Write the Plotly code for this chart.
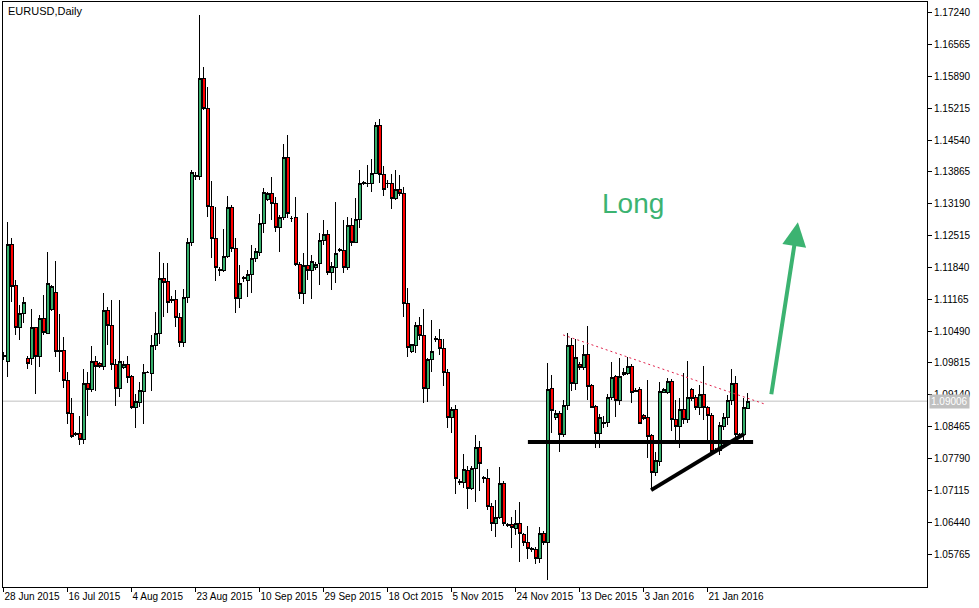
import plotly.graph_objects as go

# ---------------- data (EURUSD daily) ----------------
opens = [
1.0998, 1.0984, 1.1232, 1.1145, 1.1056, 1.1087, 1.0992, 1.0992, 1.1056, 1.0996,
1.1075, 1.1045, 1.1094, 1.1132, 1.1007, 1.1007, 1.0945, 1.0875, 1.0831, 1.0831,
1.0820, 1.0937, 1.0926, 1.0984, 1.0981, 1.0975, 1.1092, 1.1062, 1.0979, 1.0928,
1.0971, 1.0979, 1.0952, 1.0888, 1.0897, 1.0922, 1.0962, 1.0960, 1.1018, 1.1043,
1.1160, 1.1155, 1.1117, 1.1117, 1.1079, 1.1026, 1.1121, 1.1236, 1.1376, 1.1376,
1.1584, 1.1520, 1.1314, 1.1246, 1.1177, 1.1177, 1.1208, 1.1312, 1.1225, 1.1119,
1.1162, 1.1157, 1.1170, 1.1204, 1.1215, 1.1278, 1.1329, 1.1340, 1.1319, 1.1268,
1.1289, 1.1418, 1.1287, 1.1289, 1.1191, 1.1128, 1.1189, 1.1177, 1.1183, 1.1193,
1.1242, 1.1253, 1.1174, 1.1185, 1.1221, 1.1219, 1.1185, 1.1272, 1.1238, 1.1285,
1.1363, 1.1363, 1.1361, 1.1384, 1.1486, 1.1382, 1.1363, 1.1363, 1.1331, 1.1350,
1.1340, 1.1107, 1.1005, 1.1018, 1.1060, 1.1039, 1.0928, 1.0988, 1.1034, 1.1032,
1.1013, 1.0962, 1.0867, 1.0882, 1.0729, 1.0729, 1.0753, 1.0716, 1.0757, 1.0803,
1.0736, 1.0736, 1.0678, 1.0642, 1.0655, 1.0727, 1.0638, 1.0640, 1.0630, 1.0642,
1.0617, 1.0600, 1.0587, 1.0587, 1.0568, 1.0621, 1.0602, 1.0928, 1.0867, 1.0875,
1.0829, 1.0892, 1.1018, 1.0939, 1.0979, 1.0971, 1.1000, 1.0933, 1.0890, 1.0833,
1.0854, 1.0856, 1.0909, 1.0952, 1.0903, 1.0958, 1.0960, 1.0975, 1.0924, 1.0926,
1.0871, 1.0865, 1.0827, 1.0750, 1.0772, 1.0920, 1.0918, 1.0943, 1.0861, 1.0846,
1.0882, 1.0861, 1.0926, 1.0909, 1.0888, 1.0914, 1.0888, 1.0871, 1.0795, 1.0797,
1.0846, 1.0865, 1.0903, 1.0939, 1.0827, 1.0829, 1.0886,
]
highs = [
1.1005, 1.1280, 1.1246, 1.1157, 1.1104, 1.1121, 1.0996, 1.1096, 1.1058, 1.1083,
1.1126, 1.1217, 1.1147, 1.1198, 1.1085, 1.1037, 1.0962, 1.0907, 1.0835, 1.0869,
1.0969, 1.0962, 1.1018, 1.0996, 1.0984, 1.1130, 1.1100, 1.1115, 1.0990, 1.1115,
1.0986, 1.0996, 1.0956, 1.0916, 1.0941, 1.0979, 1.0964, 1.1041, 1.1090, 1.1217,
1.1193, 1.1193, 1.1123, 1.1136, 1.1087, 1.1138, 1.1246, 1.1391, 1.1386, 1.1719,
1.1609, 1.1567, 1.1367, 1.1312, 1.1185, 1.1266, 1.1336, 1.1316, 1.1246, 1.1189,
1.1166, 1.1179, 1.1232, 1.1225, 1.1297, 1.1352, 1.1344, 1.1376, 1.1333, 1.1295,
1.1446, 1.1465, 1.1293, 1.1333, 1.1196, 1.1215, 1.1299, 1.1210, 1.1196, 1.1257,
1.1285, 1.1263, 1.1196, 1.1323, 1.1225, 1.1285, 1.1291, 1.1289, 1.1331, 1.1391,
1.1367, 1.1401, 1.1414, 1.1492, 1.1499, 1.1399, 1.1369, 1.1382, 1.1391, 1.1380,
1.1355, 1.1140, 1.1022, 1.1068, 1.1079, 1.1096, 1.0992, 1.1073, 1.1039, 1.1054,
1.1032, 1.0969, 1.0888, 1.0892, 1.0736, 1.0789, 1.0763, 1.0763, 1.0829, 1.0816,
1.0742, 1.0757, 1.0685, 1.0691, 1.0761, 1.0731, 1.0642, 1.0655, 1.0670, 1.0687,
1.0621, 1.0636, 1.0591, 1.0591, 1.0634, 1.0626, 1.0981, 1.0956, 1.0882, 1.0880,
1.0903, 1.1045, 1.1035, 1.1032, 1.0984, 1.1020, 1.1060, 1.0937, 1.0892, 1.0873,
1.0869, 1.0916, 1.0984, 1.0956, 1.0992, 1.0971, 1.0994, 1.0979, 1.0928, 1.0930,
1.0873, 1.0945, 1.0831, 1.0793, 1.0941, 1.0928, 1.0950, 1.0947, 1.0903, 1.0907,
1.0960, 1.0986, 1.0928, 1.0914, 1.0935, 1.0975, 1.0890, 1.0875, 1.0801, 1.0856,
1.0875, 1.0914, 1.0969, 1.0954, 1.0833, 1.0907, 1.0918,
]
lows = [
1.0988, 1.0952, 1.1111, 1.1041, 1.1030, 1.1066, 1.0969, 1.0977, 1.0916, 1.0973,
1.1041, 1.1043, 1.1092, 1.0994, 1.0962, 1.0928, 1.0852, 1.0822, 1.0827, 1.0808,
1.0810, 1.0869, 1.0920, 1.0922, 1.0971, 1.0967, 1.1020, 1.0967, 1.0890, 1.0909,
1.0969, 1.0939, 1.0884, 1.0844, 1.0888, 1.0852, 1.0960, 1.0922, 1.1009, 1.1022,
1.1079, 1.1087, 1.1109, 1.1058, 1.1015, 1.1015, 1.1109, 1.1230, 1.1369, 1.1369,
1.1518, 1.1291, 1.1204, 1.1155, 1.1166, 1.1174, 1.1204, 1.1217, 1.1087, 1.1098,
1.1153, 1.1121, 1.1130, 1.1196, 1.1208, 1.1257, 1.1325, 1.1285, 1.1259, 1.1217,
1.1285, 1.1289, 1.1280, 1.1187, 1.1117, 1.1107, 1.1157, 1.1117, 1.1179, 1.1147,
1.1232, 1.1168, 1.1136, 1.1151, 1.1217, 1.1172, 1.1179, 1.1230, 1.1236, 1.1268,
1.1359, 1.1355, 1.1344, 1.1382, 1.1363, 1.1336, 1.1352, 1.1308, 1.1327, 1.1336,
1.1079, 1.0994, 1.1002, 1.1002, 1.1030, 1.0897, 1.0899, 1.0962, 1.1026, 1.0998,
1.0933, 1.0844, 1.0833, 1.0704, 1.0723, 1.0716, 1.0672, 1.0712, 1.0687, 1.0710,
1.0727, 1.0670, 1.0625, 1.0613, 1.0651, 1.0636, 1.0634, 1.0589, 1.0617, 1.0560,
1.0593, 1.0566, 1.0581, 1.0555, 1.0557, 1.0596, 1.0521, 1.0833, 1.0861, 1.0793,
1.0825, 1.0882, 1.0922, 1.0924, 1.0967, 1.0967, 1.0903, 1.0886, 1.0801, 1.0801,
1.0844, 1.0846, 1.0903, 1.0867, 1.0892, 1.0954, 1.0956, 1.0897, 1.0920, 1.0852,
1.0861, 1.0780, 1.0714, 1.0742, 1.0763, 1.0918, 1.0916, 1.0837, 1.0818, 1.0801,
1.0852, 1.0854, 1.0901, 1.0882, 1.0871, 1.0861, 1.0818, 1.0786, 1.0791, 1.0786,
1.0840, 1.0850, 1.0892, 1.0818, 1.0822, 1.0818, 1.0884,
]
closes = [
1.0996, 1.1232, 1.1143, 1.1056, 1.1087, 1.1109, 1.0981, 1.1056, 1.0996, 1.1075,
1.1047, 1.1151, 1.1143, 1.1005, 1.1005, 1.0945, 1.0875, 1.0825, 1.0829, 1.0820,
1.0937, 1.0926, 1.0984, 1.0975, 1.0975, 1.1092, 1.1060, 1.0979, 1.0928, 1.0984,
1.0979, 1.0950, 1.0888, 1.0899, 1.0924, 1.0962, 1.0962, 1.1018, 1.1043, 1.1160,
1.1153, 1.1109, 1.1115, 1.1079, 1.1026, 1.1121, 1.1236, 1.1386, 1.1378, 1.1584,
1.1522, 1.1314, 1.1246, 1.1185, 1.1179, 1.1208, 1.1312, 1.1225, 1.1119, 1.1151,
1.1160, 1.1170, 1.1204, 1.1217, 1.1278, 1.1342, 1.1340, 1.1319, 1.1268, 1.1291,
1.1418, 1.1299, 1.1287, 1.1191, 1.1128, 1.1189, 1.1177, 1.1196, 1.1191, 1.1242,
1.1253, 1.1174, 1.1187, 1.1213, 1.1222, 1.1185, 1.1272, 1.1238, 1.1285, 1.1361,
1.1364, 1.1362, 1.1384, 1.1486, 1.1382, 1.1350, 1.1361, 1.1331, 1.1350, 1.1340,
1.1107, 1.1015, 1.1020, 1.1060, 1.1039, 1.0928, 1.0988, 1.1005, 1.1032, 1.1013,
1.0962, 1.0867, 1.0882, 1.0736, 1.0731, 1.0755, 1.0716, 1.0757, 1.0803, 1.0769,
1.0738, 1.0678, 1.0642, 1.0655, 1.0727, 1.0642, 1.0640, 1.0632, 1.0642, 1.0619,
1.0600, 1.0589, 1.0589, 1.0568, 1.0621, 1.0602, 1.0926, 1.0880, 1.0875, 1.0829,
1.0892, 1.1018, 1.0939, 1.0994, 1.0971, 1.1000, 1.0931, 1.0888, 1.0833, 1.0865,
1.0856, 1.0909, 1.0950, 1.0903, 1.0952, 1.0962, 1.0975, 1.0920, 1.0922, 1.0854,
1.0863, 1.0825, 1.0750, 1.0774, 1.0922, 1.0926, 1.0943, 1.0861, 1.0846, 1.0882,
1.0861, 1.0909, 1.0907, 1.0888, 1.0914, 1.0888, 1.0871, 1.0793, 1.0797, 1.0848,
1.0865, 1.0903, 1.0937, 1.0829, 1.0829, 1.0888, 1.09006,
]

date_tick_bars = [0, 16, 32, 48, 64, 80, 96, 112, 128, 144, 160, 176]
date_tick_labels = ["28 Jun 2015", "16 Jul 2015", "4 Aug 2015", "23 Aug 2015",
                    "10 Sep 2015", "29 Sep 2015", "18 Oct 2015", "5 Nov 2015",
                    "24 Nov 2015", "13 Dec 2015", "3 Jan 2016", "21 Jan 2016"]
price_ticks = [1.05765, 1.06440, 1.07115, 1.07790, 1.08465, 1.09140, 1.09815,
               1.10490, 1.11165, 1.11840, 1.12515, 1.13190, 1.13865, 1.14540,
               1.15215, 1.15890, 1.16565, 1.17240]
price_tick_labels = ["%.5f" % v for v in price_ticks]
last_price = 1.09006

bars = list(range(len(closes)))

# ---------------- figure ----------------
FONT = "Liberation Sans, Arial, sans-serif"
BULL = "#35AE6B"
BEAR = "#FF0000"
ARROW_GREEN = "#3CB371"

fig = go.Figure()
fig.add_trace(go.Candlestick(
    x=bars, open=opens, high=highs, low=lows, close=closes,
    increasing=dict(fillcolor=BULL, line=dict(color="black", width=1)),
    decreasing=dict(fillcolor=BEAR, line=dict(color="black", width=1)),
    whiskerwidth=0, showlegend=False, hoverinfo="skip",
))

shapes = [
    # current price line
    dict(type="line", xref="paper", x0=0, x1=1, yref="y", y0=last_price, y1=last_price,
         line=dict(color="#C0C0C0", width=1), layer="below"),
    # support line
    dict(type="line", xref="x", yref="y", x0=131.1, x1=187.4, y0=1.0814, y1=1.0814,
         line=dict(color="black", width=4)),
    # rising trend line
    dict(type="line", xref="x", yref="y", x0=161.9, x1=185.1, y0=1.0712, y1=1.0831,
         line=dict(color="black", width=4)),
    # falling resistance (dashed)
    dict(type="line", xref="x", yref="y", x0=139.9, x1=190.1, y0=1.1041, y1=1.0895,
         line=dict(color="#E0204A", width=1, dash="2px,3px")),
]

annotations = [
    dict(text="EURUSD,Daily", xref="paper", yref="paper", x=0, y=1,
         xanchor="left", yanchor="top", xshift=3, yshift=-1, showarrow=False,
         font=dict(family=FONT, size=11, color="black")),
    dict(text="1.09006", xref="paper", yref="y", x=1, y=last_price,
         xanchor="left", yanchor="middle", xshift=2, showarrow=False,
         bgcolor="#C0C0C0", borderpad=1,
         font=dict(family=FONT, size=10, color="white")),
    dict(text="Long", xref="x", yref="y", x=157.4, y=1.1319, showarrow=False,
         font=dict(family=FONT, size=28, color=ARROW_GREEN)),
    dict(text="", xref="x", yref="y", axref="x", ayref="y",
         x=198.6, y=1.1280, ax=191.9, ay=1.0912, showarrow=True,
         arrowhead=2, arrowsize=1.2, arrowwidth=4, arrowcolor=ARROW_GREEN, standoff=0),
]

fig.update_layout(
    width=979, height=608,
    margin=dict(l=3, r=52, t=2, b=21, autoexpand=False),
    paper_bgcolor="white", plot_bgcolor="white",
    font=dict(family=FONT, size=10, color="black"),
    shapes=shapes, annotations=annotations,
    showlegend=False,
    boxgap=0.25, boxgroupgap=0,
    xaxis=dict(
        range=[-0.125, 230.875], rangeslider=dict(visible=False),
        tickmode="array", tickvals=date_tick_bars, ticktext=date_tick_labels,
        ticks="outside", ticklen=4, tickcolor="black", tickwidth=1,
        ticklabelposition="outside right", tickangle=0, automargin=False,
        showline=True, linecolor="black", linewidth=1, mirror=True,
        showgrid=False, zeroline=False,
        tickfont=dict(family=FONT, size=10, color="black"),
    ),
    yaxis=dict(
        side="right", range=[1.05066, 1.17468], automargin=False,
        tickmode="array", tickvals=price_ticks, ticktext=price_tick_labels,
        ticks="outside", ticklen=4, tickcolor="black", tickwidth=1,
        showline=True, linecolor="black", linewidth=1, mirror=True,
        showgrid=False, zeroline=False,
        tickfont=dict(family=FONT, size=10, color="black"),
    ),
)

page_fix = (
    "document.body.style.margin='0';"
    "document.body.style.overflow='hidden';"
    "var s=document.createElement('style');"
    "s.innerHTML='.boxlayer path{shape-rendering:crispEdges;}';"
    "document.head.appendChild(s);"
)
fig.write_html("out.html", config={"displayModeBar": False}, post_script=page_fix)
